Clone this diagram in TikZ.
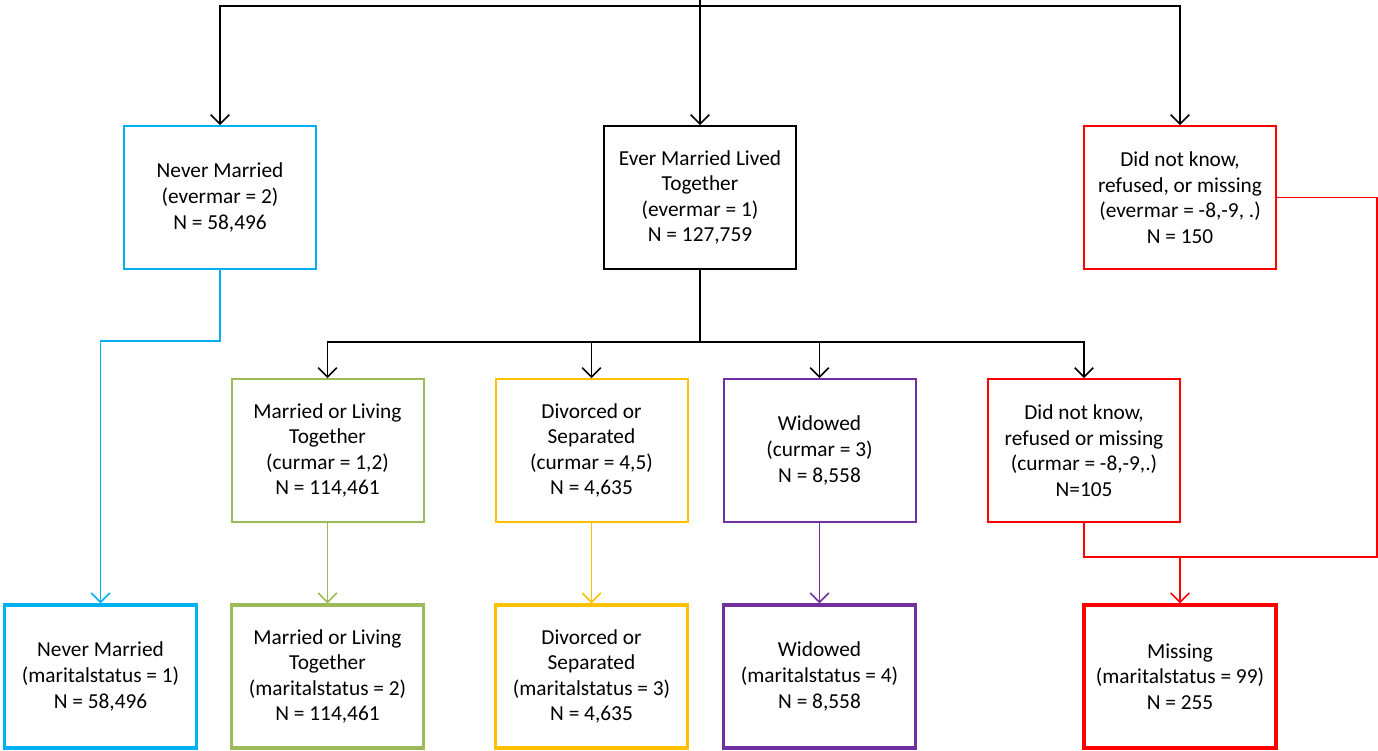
\documentclass[tikz,border=0pt]{standalone}
\usepackage{fontspec}
\setmainfont{Carlito}
\usetikzlibrary{arrows.meta}
\definecolor{nmblue}{HTML}{00B0F0}
\definecolor{mlgreen}{HTML}{9BBB59}
\definecolor{dsyellow}{HTML}{FFC000}
\definecolor{wdpurple}{HTML}{7030A0}
\definecolor{msred}{HTML}{FF0000}

\begin{document}
\begin{tikzpicture}[x=0.75pt,y=-0.75pt,
    box/.style={draw,line width=1.5pt,minimum width=144pt,minimum height=107pt,inner sep=0,align=center,font=\fontsize{16}{19.2}\selectfont},
    final/.style={box,line width=2.7pt},
    link/.style={line width=1.2pt},
    arr/.style={link,-{Straight Barb[length=7pt,width=14pt]}}]
        \useasboundingbox (0,0) rectangle (1378,750);
        % first split: evermar
        \node[box,nmblue,text=black] (nm1) at (220,197.5) {Never Married\\(evermar = 2)\\N = 58,496};
        \node[box] (em1) at (700,197.5) {Ever Married Lived\\Together\\(evermar = 1)\\N = 127,759};
        \node[box,msred,text=black] (dk1) at (1180,197.5) {Did not know,\\refused, or missing\\(evermar = -8,-9, .)\\N = 150};
        % second split: curmar
        \node[box,mlgreen,text=black] (ml2) at (327.5,450.5) {Married or Living\\Together\\(curmar = 1,2)\\N = 114,461};
        \node[box,dsyellow,text=black] (ds2) at (591.5,450.5) {Divorced or\\Separated\\(curmar = 4,5)\\N = 4,635};
        \node[box,wdpurple,text=black] (wd2) at (819.5,450.5) {Widowed\\(curmar = 3)\\N = 8,558};
        \node[box,msred,text=black] (dk2) at (1084,450.5) {Did not know,\\refused or missing\\(curmar = -8,-9,.)\\N=105};
        % maritalstatus
        \node[final,nmblue,text=black] (nm3) at (100.5,676.5) {Never Married\\(maritalstatus = 1)\\N = 58,496};
        \node[final,mlgreen,text=black] (ml3) at (327.5,676.5) {Married or Living\\Together\\(maritalstatus = 2)\\N = 114,461};
        \node[final,dsyellow,text=black] (ds3) at (591.5,676.5) {Divorced or\\Separated\\(maritalstatus = 3)\\N = 4,635};
        \node[final,wdpurple,text=black] (wd3) at (819.5,676.5) {Widowed\\(maritalstatus = 4)\\N = 8,558};
        \node[final,msred,text=black] (ms3) at (1180,676.5) {Missing\\(maritalstatus = 99)\\N = 255};

        \coordinate (entry) at (700,0);
        \coordinate (split) at (700,6);
        \coordinate (fork) at (700,342);
        \coordinate (bluebend) at (220,341);
        \coordinate (redjoin) at (1180,557);
        \coordinate (redside) at (1377,557);

        \draw[arr] (entry) -- (em1);
        \draw[arr] (split) -| (nm1);
        \draw[arr] (split) -| (dk1);
        \draw[link] (em1) -- (fork);
        \foreach \n in {ml2,ds2,wd2,dk2}
            \draw[arr] (fork) -| (\n);
        \draw[arr,nmblue] (nm1) -- (bluebend) -| (nm3);
        \draw[arr,mlgreen] (ml2) -- (ml3);
        \draw[arr,dsyellow] (ds2) -- (ds3);
        \draw[arr,wdpurple] (wd2) -- (wd3);
        \draw[link,msred] (dk1.east) -| (redside) -- (redjoin);
        \draw[link,msred] (dk2) |- (redjoin);
        \draw[arr,msred] (redjoin) -- (ms3);
      \end{tikzpicture}
\end{document}
